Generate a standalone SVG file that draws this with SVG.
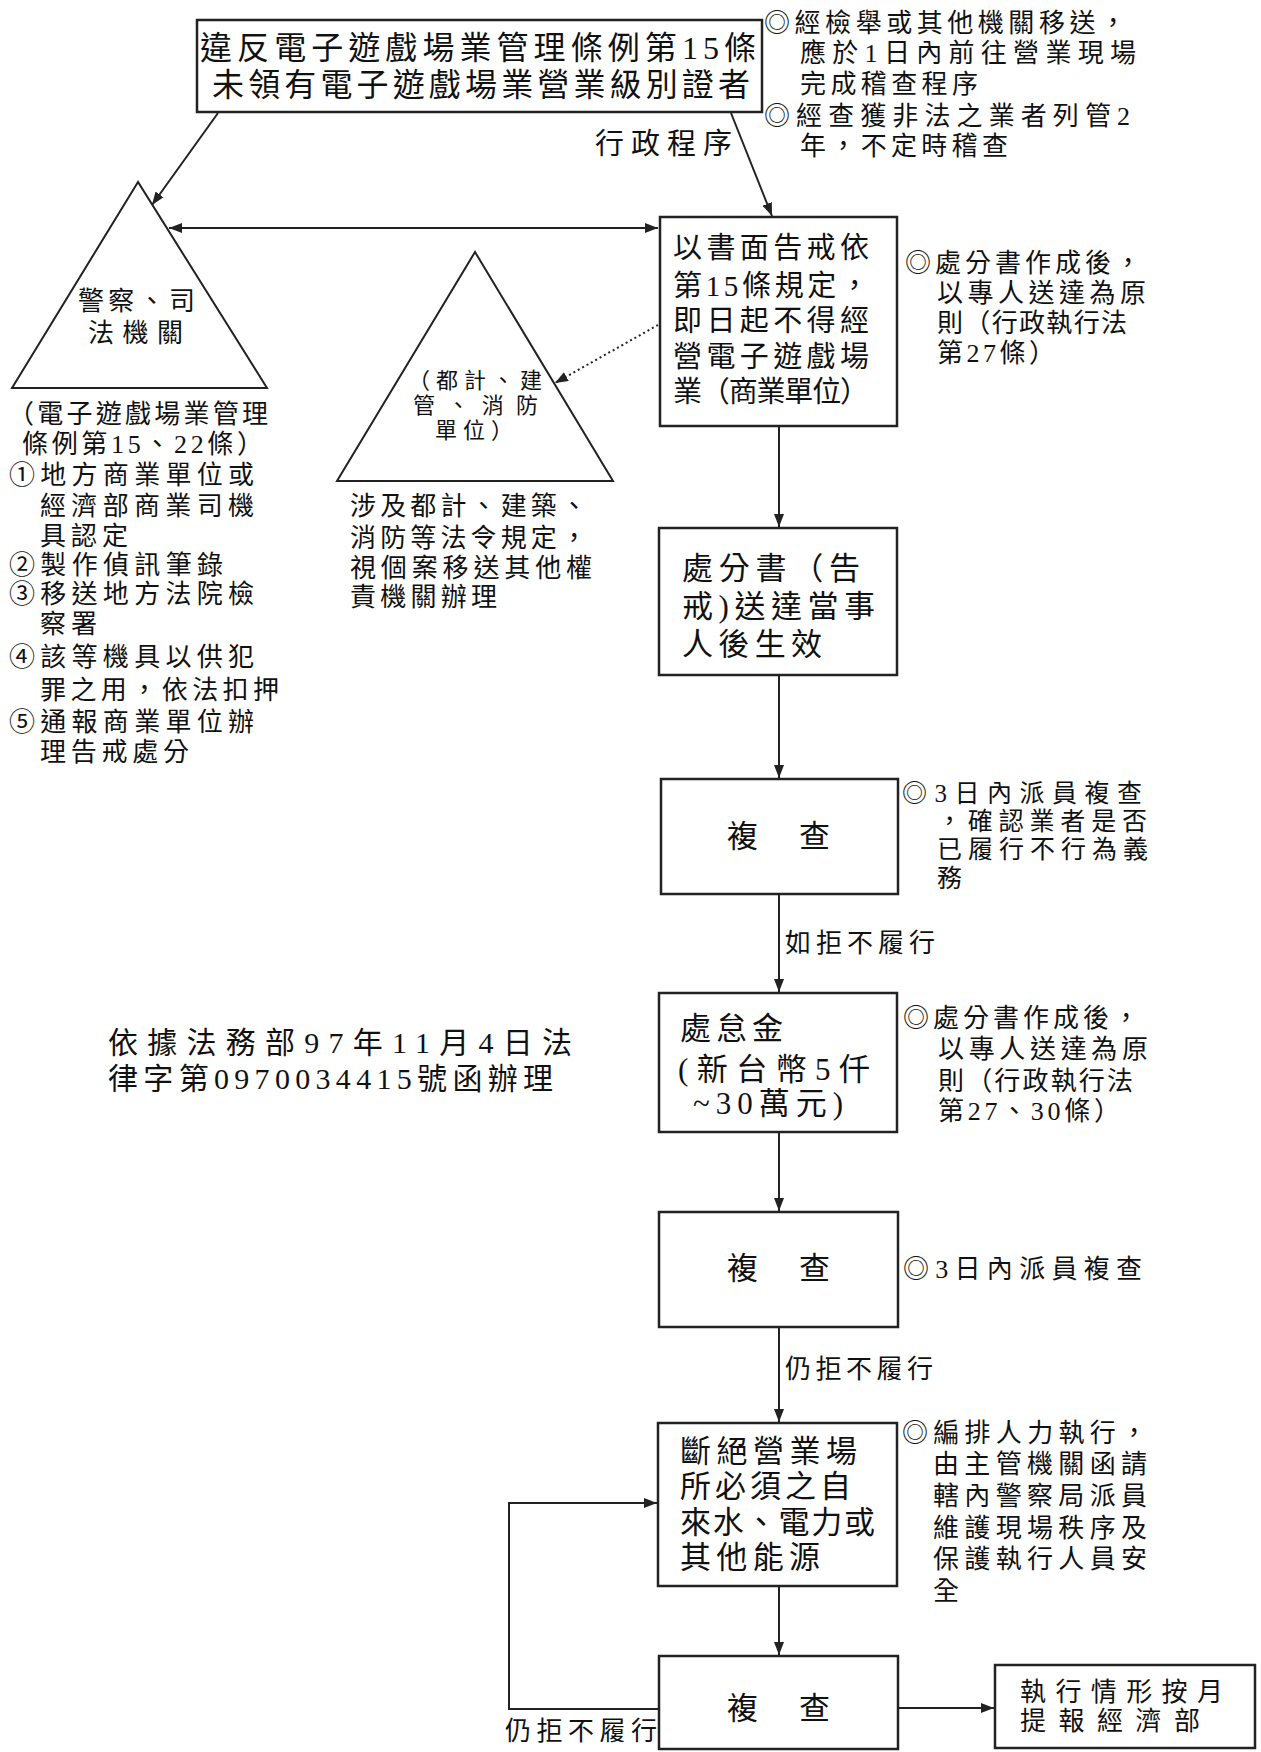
<svg xmlns="http://www.w3.org/2000/svg" width="1261" height="1752" viewBox="0 0 1261 1752">
<style>
text{font-family:"Liberation Serif","Noto Sans CJK TC","Noto Sans CJK SC",serif;fill:#111}
.f22{font-size:22px}.f25{font-size:25px}.f26{font-size:26px}.f29{font-size:29px}.f30{font-size:30px}.f31{font-size:31px}.f32{font-size:32px}
.box{fill:#fff;stroke:#222;stroke-width:2.5}
.tri{fill:#fff;stroke:#222;stroke-width:2}
.ln{fill:none;stroke:#222;stroke-width:2}
.dot{fill:none;stroke:#222;stroke-width:2;stroke-dasharray:2 3}
</style>
<defs>
<marker id="ah" viewBox="0 0 13 10" refX="13" refY="5" markerWidth="13" markerHeight="10" orient="auto-start-reverse" markerUnits="userSpaceOnUse"><path d="M0,0 L13,5 L0,10 z" fill="#222"/></marker>
</defs>
<rect width="1261" height="1752" fill="#fff"/>

<g id="connectors">
<line class="ln" x1="218" y1="113" x2="152" y2="205" marker-end="url(#ah)"/>
<line class="ln" x1="731" y1="113" x2="772" y2="216" marker-end="url(#ah)"/>
<line class="ln" x1="169" y1="228" x2="658" y2="228" marker-start="url(#ah)" marker-end="url(#ah)"/>
<line class="dot" x1="658" y1="325" x2="555" y2="383" marker-end="url(#ah)"/>
<line class="ln" x1="779" y1="426" x2="779" y2="527" marker-end="url(#ah)"/>
<line class="ln" x1="779" y1="675" x2="779" y2="778" marker-end="url(#ah)"/>
<line class="ln" x1="779" y1="894" x2="779" y2="992" marker-end="url(#ah)"/>
<line class="ln" x1="779" y1="1132" x2="779" y2="1211" marker-end="url(#ah)"/>
<line class="ln" x1="779" y1="1327" x2="779" y2="1422" marker-end="url(#ah)"/>
<line class="ln" x1="779" y1="1586" x2="779" y2="1655" marker-end="url(#ah)"/>
<polyline class="ln" points="659,1709 509,1709 509,1503 657,1503" marker-end="url(#ah)"/>
<line class="ln" x1="898" y1="1708" x2="994" y2="1708" marker-end="url(#ah)"/>
<text class="f29" x="595" y="154" textLength="137" lengthAdjust="spacing">行政程序</text>
<text class="f26" x="785" y="952" textLength="150" lengthAdjust="spacing">如拒不履行</text>
<text class="f26" x="785" y="1378" textLength="148" lengthAdjust="spacing">仍拒不履行</text>
<text class="f26" x="505" y="1740" textLength="152" lengthAdjust="spacing">仍拒不履行</text>
</g>

<g id="n-title">
<rect class="box" x="197" y="20" width="565" height="92"/>
<text class="f32"><tspan x="200" y="59" textLength="556" lengthAdjust="spacing">違反電子遊戲場業管理條例第15條</tspan><tspan x="212" y="96" textLength="538" lengthAdjust="spacing">未領有電子遊戲場業營業級別證者</tspan></text>
</g>

<g id="n-title-note">
<text class="f26"><tspan x="764" y="32" textLength="362" lengthAdjust="spacing">◎經檢舉或其他機關移送，</tspan><tspan x="800" y="62" textLength="336" lengthAdjust="spacing">應於1日內前往營業現場</tspan><tspan x="800" y="93" textLength="178" lengthAdjust="spacing">完成稽查程序</tspan><tspan x="764" y="125" textLength="366" lengthAdjust="spacing">◎經查獲非法之業者列管2</tspan><tspan x="800" y="155" textLength="208" lengthAdjust="spacing">年，不定時稽查</tspan></text>
</g>

<g id="n-police">
<polygon class="tri" points="138,182 12,388 267,388"/>
<text class="f26"><tspan x="78" y="310" textLength="117" lengthAdjust="spacing">警察、司</tspan><tspan x="88" y="342" textLength="95" lengthAdjust="spacing">法機關</tspan></text>
</g>

<g id="n-police-note">
<text class="f26"><tspan x="8" y="423" textLength="260" lengthAdjust="spacing">（電子遊戲場業管理</tspan><tspan x="22" y="453" textLength="241" lengthAdjust="spacing">條例第15、22條）</tspan><tspan x="9" y="484" textLength="245" lengthAdjust="spacing">①地方商業單位或</tspan><tspan x="40" y="515" textLength="214" lengthAdjust="spacing">經濟部商業司機</tspan><tspan x="40" y="545" textLength="88" lengthAdjust="spacing">具認定</tspan><tspan x="9" y="574" textLength="214" lengthAdjust="spacing">②製作偵訊筆錄</tspan><tspan x="9" y="603" textLength="245" lengthAdjust="spacing">③移送地方法院檢</tspan><tspan x="40" y="633" textLength="57" lengthAdjust="spacing">察署</tspan><tspan x="9" y="666" textLength="245" lengthAdjust="spacing">④該等機具以供犯</tspan><tspan x="40" y="699" textLength="239" lengthAdjust="spacing">罪之用，依法扣押</tspan><tspan x="9" y="731" textLength="245" lengthAdjust="spacing">⑤通報商業單位辦</tspan><tspan x="40" y="761" textLength="149" lengthAdjust="spacing">理告戒處分</tspan></text>
</g>

<g id="n-other">
<polygon class="tri" points="475,252 337,481 613,481"/>
<text class="f22"><tspan x="408" y="388" textLength="134" lengthAdjust="spacing">（都計、建</tspan><tspan x="413" y="413" textLength="125" lengthAdjust="spacing">管、消防</tspan><tspan x="435" y="438" textLength="78" lengthAdjust="spacing">單位）</tspan></text>
</g>

<g id="n-other-note">
<text class="f26"><tspan x="350" y="515" textLength="237" lengthAdjust="spacing">涉及都計、建築、</tspan><tspan x="350" y="547" textLength="237" lengthAdjust="spacing">消防等法令規定，</tspan><tspan x="350" y="577" textLength="242" lengthAdjust="spacing">視個案移送其他權</tspan><tspan x="350" y="606" textLength="147" lengthAdjust="spacing">責機關辦理</tspan></text>
</g>

<g id="n-warn">
<rect class="box" x="660" y="217" width="237" height="209"/>
<text class="f29"><tspan x="673" y="258" textLength="196" lengthAdjust="spacing">以書面告戒依</tspan><tspan x="673" y="296" textLength="196" lengthAdjust="spacing">第15條規定，</tspan><tspan x="673" y="331" textLength="196" lengthAdjust="spacing">即日起不得經</tspan><tspan x="673" y="367" textLength="196" lengthAdjust="spacing">營電子遊戲場</tspan><tspan x="673" y="402" textLength="196" lengthAdjust="spacing">業（商業單位）</tspan></text>
</g>

<g id="n-warn-note">
<text class="f26"><tspan x="905" y="272" textLength="236" lengthAdjust="spacing">◎處分書作成後，</tspan><tspan x="937" y="302" textLength="209" lengthAdjust="spacing">以專人送達為原</tspan><tspan x="937" y="332" textLength="190" lengthAdjust="spacing">則（行政執行法</tspan><tspan x="937" y="362" textLength="118" lengthAdjust="spacing">第27條）</tspan></text>
</g>

<g id="n-effect">
<rect class="box" x="659" y="528" width="238" height="147"/>
<text class="f31"><tspan x="682" y="579" textLength="178" lengthAdjust="spacing">處分書（告</tspan><tspan x="682" y="617" textLength="193" lengthAdjust="spacing">戒)送達當事</tspan><tspan x="682" y="655" textLength="140" lengthAdjust="spacing">人後生效</tspan></text>
</g>

<g id="n-check1">
<rect class="box" x="661" y="779" width="237" height="115"/>
<text class="f31" x="727" y="847" textLength="103" lengthAdjust="spacing">複　查</text>
</g>
<g id="n-check1-note">
<text class="f25"><tspan x="902" y="802" textLength="240" lengthAdjust="spacing">◎3日內派員複查</tspan><tspan x="937" y="830" textLength="210" lengthAdjust="spacing">，確認業者是否</tspan><tspan x="937" y="858" textLength="211" lengthAdjust="spacing">已履行不行為義</tspan><tspan x="937" y="887">務</tspan></text>
</g>

<g id="n-fine">
<rect class="box" x="659" y="993" width="238" height="139"/>
<text class="f31"><tspan x="680" y="1039" textLength="103" lengthAdjust="spacing">處怠金</tspan><tspan x="678" y="1080" textLength="192" lengthAdjust="spacing">(新台幣5仟</tspan><tspan x="693" y="1114" textLength="150" lengthAdjust="spacing">~30萬元)</tspan></text>
</g>
<g id="n-fine-note">
<text class="f26"><tspan x="903" y="1027" textLength="236" lengthAdjust="spacing">◎處分書作成後，</tspan><tspan x="938" y="1058" textLength="210" lengthAdjust="spacing">以專人送達為原</tspan><tspan x="938" y="1090" textLength="195" lengthAdjust="spacing">則（行政執行法</tspan><tspan x="938" y="1120" textLength="182" lengthAdjust="spacing">第27、30條）</tspan></text>
</g>

<g id="n-check2">
<rect class="box" x="659" y="1212" width="239" height="115"/>
<text class="f31" x="727" y="1279" textLength="103" lengthAdjust="spacing">複　查</text>
</g>
<g id="n-check2-note">
<text class="f26" x="903" y="1278" textLength="239" lengthAdjust="spacing">◎3日內派員複查</text>
</g>

<g id="n-cut">
<rect class="box" x="658" y="1423" width="239" height="163"/>
<text class="f31"><tspan x="680" y="1462" textLength="177" lengthAdjust="spacing">斷絕營業場</tspan><tspan x="680" y="1497" textLength="171" lengthAdjust="spacing">所必須之自</tspan><tspan x="680" y="1533" textLength="195" lengthAdjust="spacing">來水、電力或</tspan><tspan x="680" y="1568" textLength="140" lengthAdjust="spacing">其他能源</tspan></text>
</g>
<g id="n-cut-note">
<text class="f26"><tspan x="902" y="1442" textLength="245" lengthAdjust="spacing">◎編排人力執行，</tspan><tspan x="933" y="1473" textLength="214" lengthAdjust="spacing">由主管機關函請</tspan><tspan x="933" y="1505" textLength="214" lengthAdjust="spacing">轄內警察局派員</tspan><tspan x="933" y="1537" textLength="214" lengthAdjust="spacing">維護現場秩序及</tspan><tspan x="933" y="1568" textLength="214" lengthAdjust="spacing">保護執行人員安</tspan><tspan x="933" y="1600">全</tspan></text>
</g>

<g id="n-check3">
<rect class="box" x="659" y="1656" width="239" height="93"/>
<text class="f31" x="727" y="1719" textLength="103" lengthAdjust="spacing">複　查</text>
</g>

<g id="n-report">
<rect class="box" x="995" y="1665" width="260" height="83"/>
<text class="f26"><tspan x="1020" y="1701" textLength="203" lengthAdjust="spacing">執行情形按月</tspan><tspan x="1020" y="1730" textLength="180" lengthAdjust="spacing">提報經濟部</tspan></text>
</g>

<g id="n-basis">
<text class="f30"><tspan x="108" y="1053" textLength="464" lengthAdjust="spacing">依據法務部97年11月4日法</tspan><tspan x="108" y="1089" textLength="445" lengthAdjust="spacing">律字第0970034415號函辦理</tspan></text>
</g>
</svg>
